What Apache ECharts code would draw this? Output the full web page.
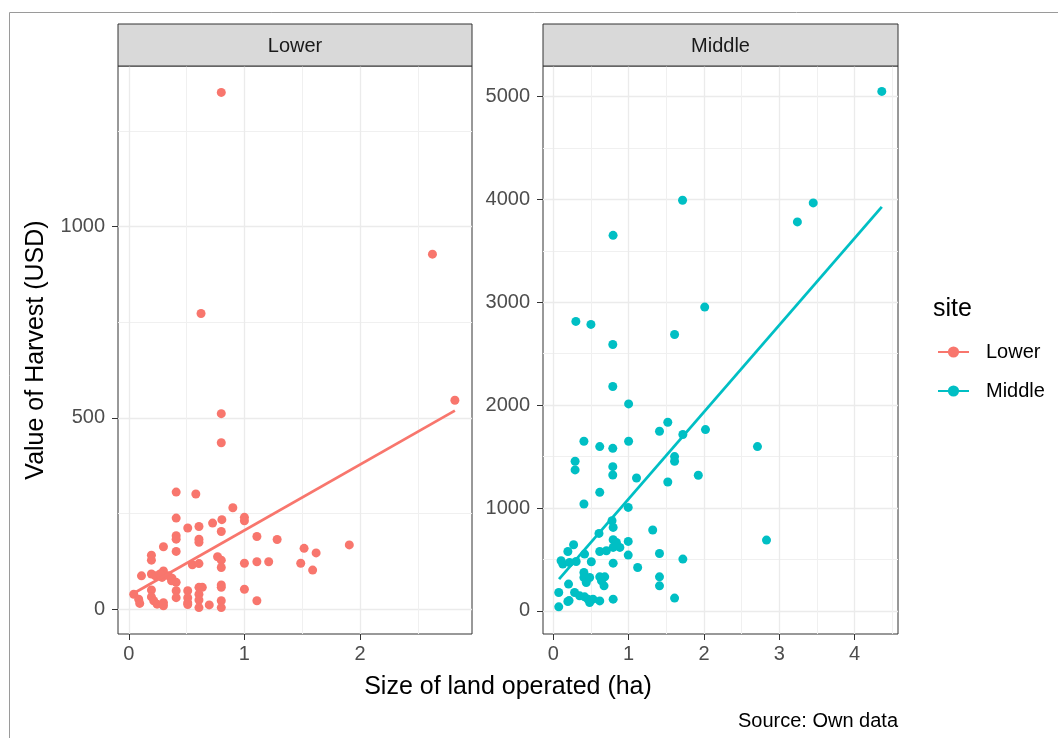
<!DOCTYPE html>
<html><head><meta charset="utf-8">
<script src="https://cdn.jsdelivr.net/npm/echarts@6/dist/echarts.min.js"></script>
<style>html,body{margin:0;padding:0;background:#fff}#c{width:1058px;height:738px}</style>
</head><body><div id="c"></div>
<script>
// ---- data ----
const sites = ['Lower', 'Middle'];
const lowerPoints = [
  [0.41,306],[0.58,301],[0.90,265],[0.41,238],[1.00,240],[1.00,231],[0.51,212],[0.607,216],
  [0.725,225],[0.805,234],[0.80,203],[0.41,192],[0.41,183],[0.607,183],[0.607,175],[1.108,190],
  [1.283,182],[0.30,163],[0.41,151],[0.196,141],[0.196,128],[0.768,137],[0.80,128],[0.55,116],
  [0.607,119],[0.80,109],[1.00,120],[1.108,124],[1.21,124],[1.516,159],[1.62,147],[1.487,120],
  [1.59,102],[1.907,168],[0.11,87],[0.196,92],[0.23,87],[0.30,100],[0.288,83],[0.345,87],
  [0.374,81],[0.043,39],[0.086,26],[0.095,15],[0.196,50],[0.196,32],[0.216,22],[0.245,13],
  [0.30,17],[0.30,9],[0.41,70],[0.41,48],[0.41,30],[0.51,48],[0.51,30],[0.51,17],
  [0.607,57],[0.636,57],[0.607,39],[0.607,24],[0.607,4],[0.696,11],[0.80,63],[0.80,22],
  [0.80,4],[1.00,52],[1.108,22],[0.80,1351],[2.626,928],[0.625,773],[0.80,511],[0.80,435],
  [2.82,546],[0.80,57],[0.51,12],[0.37,74],[0.27,92]
];
const middlePoints = [
  [4.36,5050],[1.716,3992],[3.45,3966],[3.24,3781],[0.794,3651],[2.01,2953],[0.30,2814],[0.50,2785],
  [1.61,2687],[0.79,2590],[0.79,2181],[1.0,2012],[1.52,1834],[1.41,1746],[1.72,1714],[2.02,1762],
  [0.407,1649],[1.0,1649],[0.617,1597],[0.79,1580],[2.71,1597],[1.61,1500],[1.61,1454],[0.29,1454],
  [0.29,1370],[0.79,1402],[0.79,1321],[1.925,1318],[1.105,1292],[1.52,1253],[0.617,1152],[0.407,1039],
  [0.995,1006],[0.78,876],[0.795,811],[1.32,786],[0.607,753],[2.83,688],[0.795,691],[0.838,665],
  [0.995,675],[0.27,643],[0.795,617],[0.884,617],[0.194,577],[0.617,577],[0.705,584],[1.41,558],
  [0.416,552],[0.995,542],[1.72,503],[0.104,487],[0.127,455],[0.216,470],[0.304,480],[0.505,477],
  [0.795,464],[1.12,422],[0.407,373],[0.407,324],[0.483,324],[0.438,276],[0.617,331],[0.683,331],
  [0.674,243],[0.64,292],[1.41,331],[1.41,243],[0.203,260],[0.073,178],[0.283,178],[0.35,146],
  [0.416,136],[0.46,114],[0.483,81],[0.527,114],[0.617,97],[0.795,114],[0.194,91],[0.073,39],
  [1.61,124],[0.21,100]
];
const lowerFit = [[0.04,41],[2.82,519]];
const middleFit = [[0.077,309],[4.36,3927]];
const lowerXTicks = [0,1,2];
const lowerXMinor = [0.5,1.5,2.5];
const lowerYTicks = [0,500,1000];
const lowerYMinor = [250,750,1250];
const middleXTicks = [0,1,2,3,4];
const middleXMinor = [0.5,1.5,2.5,3.5,4.5];
const middleYTicks = [0,1000,2000,3000,4000,5000];
const middleYMinor = [500,1500,2500,3500,4500];
const colors = ['#F8766D', '#00BFC4'];

// ---- chart ----
const FONT = 'Liberation Sans, Arial, sans-serif';
function majorAxis(gridIndex, min, max, ticks, isX) {
  return {
    type: 'value', gridIndex, min, max,
    position: isX ? 'bottom' : 'left',
    axisLine: { show: false, onZero: false },
    axisTick: { show: true, inside: false, customValues: ticks, length: 6, lineStyle: { color: '#333', width: 1 } },
    axisLabel: { show: true, customValues: ticks, color: '#4D4D4D', fontSize: 20, fontFamily: FONT,
      margin: isX ? 10 : 13, formatter: v => String(v) },
    splitLine: { show: true, lineStyle: { color: '#EBEBEB', width: 1.3 } },
    minorTick: { show: false }, minorSplitLine: { show: false }
  };
}
function minorAxis(gridIndex, min, max, ticks, isX) {
  return {
    type: 'value', gridIndex, min, max,
    position: isX ? 'top' : 'right',
    axisLine: { show: false, onZero: false },
    axisTick: { show: false, customValues: ticks },
    axisLabel: { show: false, customValues: ticks },
    splitLine: { show: true, lineStyle: { color: '#F0F0F0', width: 1 } }
  };
}
const chart = echarts.init(document.getElementById('c'), null, { renderer: 'canvas' });
const option = {
  animation: false,
  backgroundColor: '#fff',
  grid: [
    { left: 118, top: 66, width: 354, height: 568, show: true, borderColor: '#333', borderWidth: 1, backgroundColor: '#fff', containLabel: false },
    { left: 543, top: 66, width: 355, height: 568, show: true, borderColor: '#333', borderWidth: 1, backgroundColor: '#fff', containLabel: false }
  ],
  xAxis: [
    majorAxis(0, -0.093, 2.968, lowerXTicks, true),
    minorAxis(0, -0.093, 2.968, lowerXMinor, true),
    majorAxis(1, -0.136, 4.575, middleXTicks, true),
    minorAxis(1, -0.136, 4.575, middleXMinor, true)
  ],
  yAxis: [
    majorAxis(0, -65, 1420, lowerYTicks, false),
    minorAxis(0, -65, 1420, lowerYMinor, false),
    majorAxis(1, -225, 5297, middleYTicks, false),
    minorAxis(1, -225, 5297, middleYMinor, false)
  ],
  legend: {
    data: sites, orient: 'vertical', left: 937, top: 342, padding: 0,
    itemWidth: 31, itemHeight: 14, itemGap: 19,
    textStyle: { fontSize: 20, color: '#000', fontFamily: FONT, padding: [0, 0, 0, 12] }
  },
  series: [
    { name: sites[0], type: 'line', xAxisIndex: 0, yAxisIndex: 0, data: lowerFit, symbol: 'circle', symbolSize: 9, showSymbol: false,
      lineStyle: { color: colors[0], width: 2.8 }, itemStyle: { color: colors[0] }, z: 3, silent: true },
    { name: sites[1], type: 'line', xAxisIndex: 2, yAxisIndex: 2, data: middleFit, symbol: 'circle', symbolSize: 9, showSymbol: false,
      lineStyle: { color: colors[1], width: 2.8 }, itemStyle: { color: colors[1] }, z: 3, silent: true },
    { name: sites[0], type: 'scatter', xAxisIndex: 0, yAxisIndex: 0, data: lowerPoints, symbolSize: 9,
      itemStyle: { color: colors[0], opacity: 1 }, z: 2 },
    { name: sites[1], type: 'scatter', xAxisIndex: 2, yAxisIndex: 2, data: middlePoints, symbolSize: 9,
      itemStyle: { color: colors[1], opacity: 1 }, z: 2 }
  ],
  graphic: [
    { type: 'rect', shape: { x: 9.5, y: 12.5, width: 1100, height: 800 }, style: { fill: 'none', stroke: '#9A9A9A', lineWidth: 1 }, z: 0, silent: true },
    { type: 'rect', shape: { x: 118, y: 24, width: 354, height: 42 }, style: { fill: '#D9D9D9', stroke: '#333', lineWidth: 1 }, z: 10 },
    { type: 'text', x: 295, y: 46, style: { text: sites[0], fontSize: 20, fill: '#1A1A1A', fontFamily: FONT, align: 'center', verticalAlign: 'middle' }, z: 11 },
    { type: 'rect', shape: { x: 543, y: 24, width: 355, height: 42 }, style: { fill: '#D9D9D9', stroke: '#333', lineWidth: 1 }, z: 10 },
    { type: 'text', x: 720.5, y: 46, style: { text: sites[1], fontSize: 20, fill: '#1A1A1A', fontFamily: FONT, align: 'center', verticalAlign: 'middle' }, z: 11 },
    { type: 'text', x: 508, y: 687, style: { text: 'Size of land operated (ha)', fontSize: 25, fill: '#000', fontFamily: FONT, align: 'center', verticalAlign: 'middle' }, z: 11 },
    { type: 'text', x: 36, y: 350, rotation: Math.PI / 2, style: { text: 'Value of Harvest (USD)', fontSize: 25, fill: '#000', fontFamily: FONT, align: 'center', verticalAlign: 'middle' }, z: 11 },
    { type: 'text', x: 898, y: 721, style: { text: 'Source: Own data', fontSize: 20, fill: '#000', fontFamily: FONT, align: 'right', verticalAlign: 'middle' }, z: 11 },
    { type: 'text', x: 933, y: 309, style: { text: 'site', fontSize: 25, fill: '#000', fontFamily: FONT, align: 'left', verticalAlign: 'middle' }, z: 11 }
  ]
};
chart.setOption(option);
</script>
</body></html>
